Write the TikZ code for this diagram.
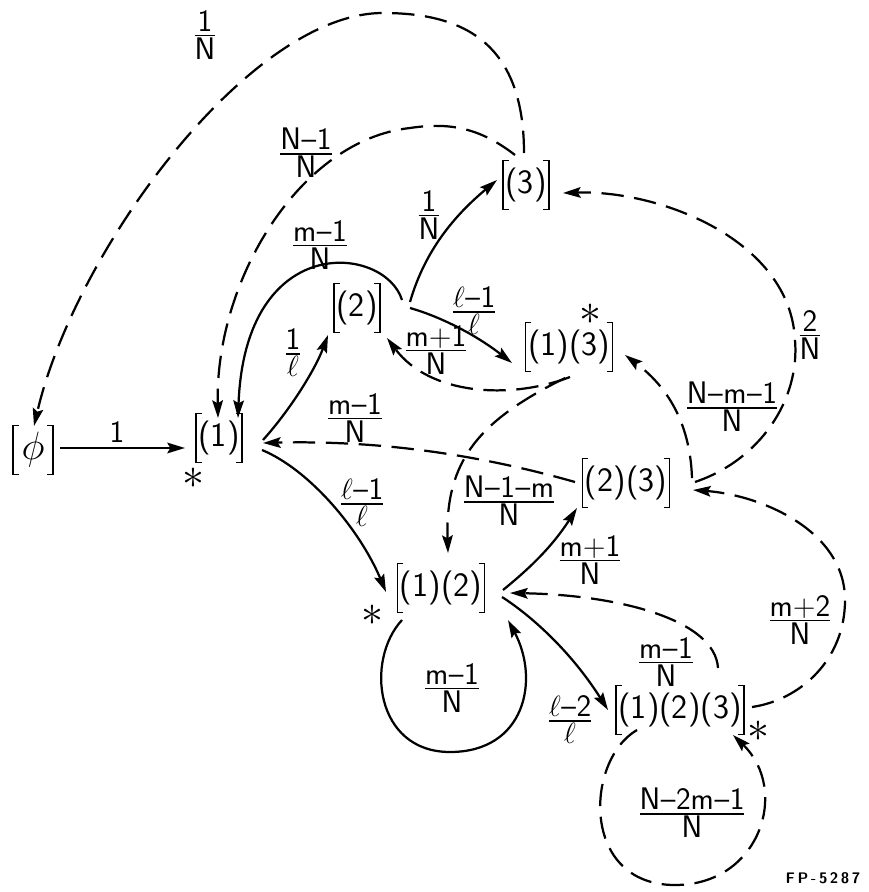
\documentclass[tikz,border=0pt]{standalone}
\usepackage{amsmath}
\usepackage{graphicx}
\usetikzlibrary{arrows.meta,calc}
\newcommand{\dd}{\kern0.5pt\textendash\kern0.5pt}
\newcommand{\fr}[2]{$\genfrac{}{}{1.4pt}{1}{\mbox{#1}}{\mbox{#2}}$}
\tikzset{
 st/.style={line width=1.9pt, -{Stealth[length=15pt,width=9pt,inset=2.5pt]}},
 da/.style={st, dash pattern=on 19pt off 9pt},
 state/.style={font=\fontsize{29}{32}\selectfont\sffamily, inner xsep=2pt, inner ysep=0pt, minimum height=41pt},
 lbl/.style={font=\fontsize{26.5}{29}\selectfont\sffamily, inner sep=0pt},
 starmark/.style={font=\fontsize{24}{26}\selectfont, inner sep=0pt},
 brk/.style={line width=1.4pt},
}
\newcommand{\bigstar}{\scalebox{1.5}{$\ast$}}
\begin{document}
\begin{tikzpicture}[x=0.85pt,y=-0.85pt]
\useasboundingbox (0,0) rectangle (868,892);
% states
\node[state,minimum width=34pt] (phi) at (33,450) {\scalebox{1.35}{$\phi$}};
\node[state] (n1) at (219,438) {(1)};
\node[state] (n2) at (357,308) {(2)};
\node[state] (n3) at (526,185) {(3)};
\node[state] (n13) at (569,347) {(1)(3)};
\node[state] (n23) at (626,483) {(2)(3)};
\node[state] (n12) at (441,588) {(1)(2)};
\node[state] (n123) at (680,710) {(1)(2)(3)};
\foreach \n in {phi,n1,n2,n3,n13,n23,n12,n123} {
  \draw[brk] ($(\n.north west)+(5pt,0)$) -- (\n.north west) -- (\n.south west) -- ($(\n.south west)+(5pt,0)$);
  \draw[brk] ($(\n.north east)+(-5pt,0)$) -- (\n.north east) -- (\n.south east) -- ($(\n.south east)+(-5pt,0)$);
}
% stars
\node[starmark] (s1) at (193,478) {\bigstar};
\node[starmark] (s13) at (590,314) {\bigstar};
\node[starmark] (s12) at (372,615) {\bigstar};
\node[starmark] (s123) at (758,731) {\bigstar};
% connectors
\draw[st] ($(phi)+(27,-2)$) -- ($(n1)+(-34,10)$);
\draw[da] ($(n3)+(-2,-32)$) .. controls (524,40) and (460,13) .. (383,13) .. controls (250,13) and (75,250) .. ($(phi)+(1,-24)$);
\draw[da] ($(n3)+(-11,-30)$) .. controls (480,128) and (450,122) .. (410,128) .. controls (300,140) and (215,280) .. ($(n1)+(-1,-20)$);
\draw[st] ($(n2)+(45,-8)$) .. controls (385,245) and (245,230) .. ($(n1)+(19,-20)$);
\draw[st] ($(n1)+(44,2)$) .. controls (290,410) and (315,370) .. ($(n2)+(-29,27)$);
\draw[st] ($(n2)+(53,-6)$) .. controls (425,250) and (455,215) .. ($(n3)+(-29,-5)$);
\draw[st] ($(n2)+(53,0)$) .. controls (445,318) and (480,338) .. ($(n13)+(-57,16)$);
\draw[da] ($(n13)+(1,30)$) .. controls (510,400) and (430,395) .. ($(n2)+(30,30)$);
\draw[da] ($(n13)+(-4,31)$) .. controls (480,420) and (445,460) .. ($(n12)+(7,-35)$);
\draw[da] ($(n23)+(-51,-1)$) .. controls (480,455) and (380,440) .. ($(n1)+(44,5)$);
\draw[st] ($(n1)+(43,12)$) .. controls (310,470) and (360,530) .. ($(n12)+(-55,4)$);
\draw[da] ($(n23)+(66,-5)$) .. controls (690,420) and (665,385) .. ($(n13)+(56,8)$);
\draw[da] ($(n23)+(69,-1)$) .. controls (760,460) and (800,400) .. (795,340) .. controls (790,240) and (660,190) .. ($(n3)+(37,8)$);
\draw[st] ($(n12)+(62,2)$) .. controls (525,572) and (550,550) .. ($(n23)+(-49,25)$);
\draw[da] ($(n123)+(38,-42)$) .. controls (715,620) and (620,595) .. ($(n12)+(69,5)$);
\draw[da] ($(n123)+(72,-3)$) .. controls (800,700) and (845,660) .. (845,600) .. controls (845,530) and (760,495) .. ($(n23)+(67,7)$);
\draw[st] ($(n12)+(61,9)$) .. controls (530,615) and (570,650) .. ($(n123)+(-72,0)$);
\draw[st] ($(n12)+(-39,32)$) .. controls (365,660) and (375,752) .. (450,752) .. controls (525,752) and (540,680) .. ($(n12)+(67,32)$);
\draw[da] ($(n123)+(-43,20)$) .. controls (585,760) and (580,885) .. (675,885) .. controls (760,885) and (790,790) .. ($(n123)+(53,25)$);
% labels
\node[lbl] (l0) at (117,432) {1};
\node[lbl] (lA) at (205,35) {\fr{1}{N}};
\node[lbl] (lB) at (306,153) {\fr{N\dd1}{N}};
\node[lbl] (lC) at (320,245) {\fr{m\dd1}{N}};
\node[lbl] (lD) at (293,353) {\fr{1}{$\ell$}};
\node[lbl] (lE) at (429,215) {\fr{1}{N}};
\node[lbl] (lF) at (474,311) {\fr{$\ell$\dd1}{$\ell$}};
\node[lbl] (lG) at (436,350) {\fr{m+1}{N}};
\node[lbl] (lH) at (509,501) {\fr{N\dd1\dd m}{N}};
\node[lbl] (lI) at (355,418) {\fr{m\dd1}{N}};
\node[lbl] (lJ) at (362,503) {\fr{$\ell$\dd1}{$\ell$}};
\node[lbl] (lK) at (732,407) {\fr{N\dd m\dd1}{N}};
\node[lbl] (lL) at (810,335) {\fr{2}{N}};
\node[lbl] (lM) at (590,560) {\fr{m+1}{N}};
\node[lbl] (lN) at (666,662) {\fr{m\dd1}{N}};
\node[lbl] (lO) at (800,620) {\fr{m+2}{N}};
\node[lbl] (lP) at (570,720) {\fr{$\ell$\dd2}{$\ell$}};
\node[lbl] (lQ) at (452,688) {\fr{m\dd1}{N}};
\node[lbl] (lR) at (692,813) {\fr{N\dd2m\dd1}{N}};
\node[font=\fontsize{13}{15}\selectfont\sffamily\bfseries, inner sep=0pt] (fp) at (823,878) {F\,P\,-\,5\,2\,8\,7};
\end{tikzpicture}
\end{document}
